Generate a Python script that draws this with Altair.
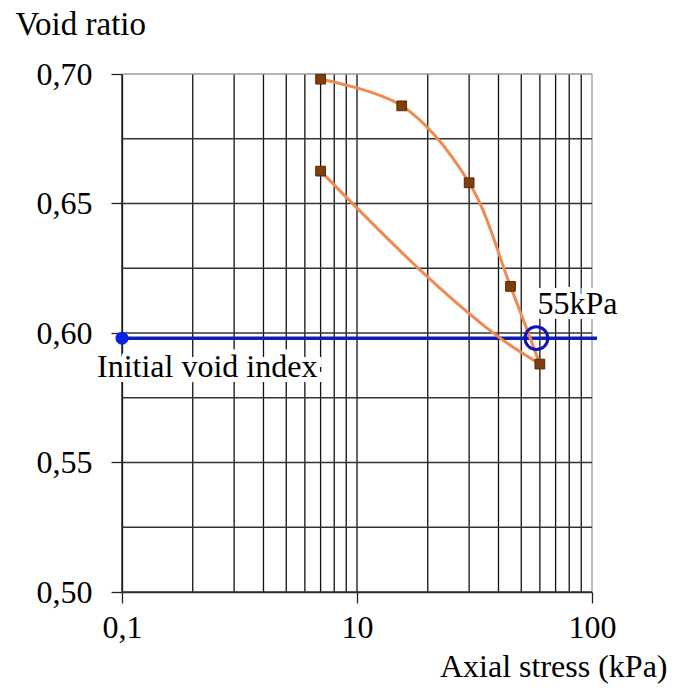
import altair as alt
import pandas as pd

# ---- data ----
# loading branch (marked points)
load_x = [7, 15.5, 30, 45, 60]
load_y = [0.698, 0.6877, 0.658, 0.618, 0.588]
# unloading branch (curve; first and last are marked)
unload_x = [60, 40, 20, 7]
unload_y = [0.588, 0.5985, 0.6216, 0.6625]
# marked points
marker_x = [7, 15.5, 30, 45, 60, 7]
marker_y = [0.698, 0.6877, 0.658, 0.618, 0.588, 0.6625]

# initial void index
init_x = 1
init_y = 0.598
init_end_x = 105
init_label = "Initial void index"

# yield point
yield_x = 58
yield_y = 0.598
yield_label = "55kPa"

# axes
x_tick_values = [1, 10, 100]
x_tick_labels = ["0,1", "10", "100"]
y_tick_values = [0.50, 0.55, 0.60, 0.65, 0.70]
x_grid = [1, 2, 3, 4, 5, 6, 7, 8, 9, 10, 20, 30, 40, 50, 60, 70, 80, 90, 100]
y_grid = [0.50, 0.525, 0.55, 0.575, 0.60, 0.625, 0.65, 0.675, 0.70]

FONT = "Liberation Serif"
FS = 32
W, H = 470, 518

label_expr = " : ".join(
    f"datum.value == {v} ? '{l}'" for v, l in zip(x_tick_values, x_tick_labels)
) + " : ''"

x_scale = alt.Scale(type="log", domain=[1, 100], nice=False)
y_scale = alt.Scale(domain=[0.5, 0.7], nice=False, zero=False)

x_axis = alt.Axis(
    values=x_tick_values, labelExpr=label_expr, grid=False,
    domain=True, domainColor="#222", domainWidth=1.3,
    ticks=True, tickSize=11, tickColor="#222", tickWidth=1.3,
    labelFont=FONT, labelFontSize=FS, labelColor="#000", labelPadding=9,
    labelFlush=False, labelOverlap=False,
    title="Axial stress (kPa)", titleFont=FONT, titleFontSize=FS,
    titleFontWeight="normal", titleColor="#000",
    titleAlign="right", titleBaseline="alphabetic", titleX=545, titleY=84,
)
y_axis = alt.Axis(
    values=y_tick_values, labelExpr="replace(format(datum.value, '.2f'), '.', ',')",
    grid=False, domain=True, domainColor="#222", domainWidth=1.3,
    ticks=True, tickSize=11, tickColor="#222", tickWidth=1.3,
    labelFont=FONT, labelFontSize=FS, labelColor="#000", labelPadding=19,
    labelFlush=False, labelOverlap=False,
    title="Void ratio", titleFont=FONT, titleFontSize=33,
    titleFontWeight="normal", titleColor="#000", titleAngle=0,
    titleAlign="left", titleBaseline="alphabetic", titleX=-107, titleY=-40,
)

X = alt.X("x:Q", scale=x_scale, axis=x_axis)
Y = alt.Y("y:Q", scale=y_scale, axis=y_axis)

vgrid_df = pd.DataFrame({"x": x_grid})
vgrid_df["edge"] = vgrid_df["x"] == 100
hgrid_df = pd.DataFrame({"y": y_grid})
hgrid_df["edge"] = hgrid_df["y"] == 0.70

vgrid = alt.Chart(vgrid_df).mark_rule(strokeWidth=1.3).encode(
    x=X,
    color=alt.condition("datum.edge", alt.value("#9a9a9a"), alt.value("#111111")),
)
hgrid = alt.Chart(hgrid_df).mark_rule(strokeWidth=1.3).encode(
    y=Y,
    color=alt.condition("datum.edge", alt.value("#9a9a9a"), alt.value("#333333")),
)

init_df = pd.DataFrame({"x": [init_x], "x2": [init_end_x], "y": [init_y], "label": [init_label]})
blue_line = alt.Chart(init_df).mark_rule(color="#0F1FB0", strokeWidth=3.5).encode(
    x=X, x2="x2:Q", y=Y
)

load_df = pd.DataFrame({"x": load_x, "y": load_y, "o": range(len(load_x))})
unload_df = pd.DataFrame({"x": unload_x, "y": unload_y, "o": range(len(unload_x))})
load_line = alt.Chart(load_df).mark_line(
    color="#F08A50", strokeWidth=3, interpolate="catmull-rom"
).encode(x=X, y=Y, order="o:Q")
unload_line = alt.Chart(unload_df).mark_line(
    color="#F08A50", strokeWidth=3, interpolate="catmull-rom"
).encode(x=X, y=Y, order="o:Q")

marker_df = pd.DataFrame({"x": marker_x, "y": marker_y})
markers = alt.Chart(marker_df).mark_point(
    shape="square", filled=True, size=95, fill="#7E3E0E", stroke="#5A2A06",
    strokeWidth=1, opacity=1
).encode(x=X, y=Y)

blue_dot = alt.Chart(init_df).mark_circle(size=170, color="#0A22E6", opacity=1).encode(x=X, y=Y)

yield_df = pd.DataFrame({"x": [yield_x], "y": [yield_y], "label": [yield_label]})
yield_circle = alt.Chart(yield_df).mark_point(
    shape="circle", filled=False, size=520, stroke="#1212B8", strokeWidth=3, opacity=1
).encode(x=X, y=Y)


def label_layers(df, dx, dy):
    halo = alt.Chart(df).mark_text(
        font=FONT, fontSize=FS, align="left", baseline="alphabetic",
        dx=dx, dy=dy, color="white", stroke="white", strokeWidth=10,
    ).encode(x=X, y=Y, text="label:N")
    txt = alt.Chart(df).mark_text(
        font=FONT, fontSize=FS, align="left", baseline="alphabetic",
        dx=dx, dy=dy, color="#000",
    ).encode(x=X, y=Y, text="label:N")
    return [halo, txt]


init_labels = label_layers(init_df, -25, 39)
yield_labels = label_layers(yield_df, 1, -24)

chart = alt.layer(
    vgrid, hgrid, blue_line, load_line, unload_line, markers, blue_dot,
    yield_circle, *init_labels, *yield_labels,
).properties(
    width=W, height=H,
    autosize=alt.AutoSizeParams(type="none"),
    padding={"left": 114, "top": 66, "right": 77, "bottom": 92},
    background="white",
).configure_view(stroke=None)

chart.save("out.html", embed_options={"renderer": "svg", "actions": False})
